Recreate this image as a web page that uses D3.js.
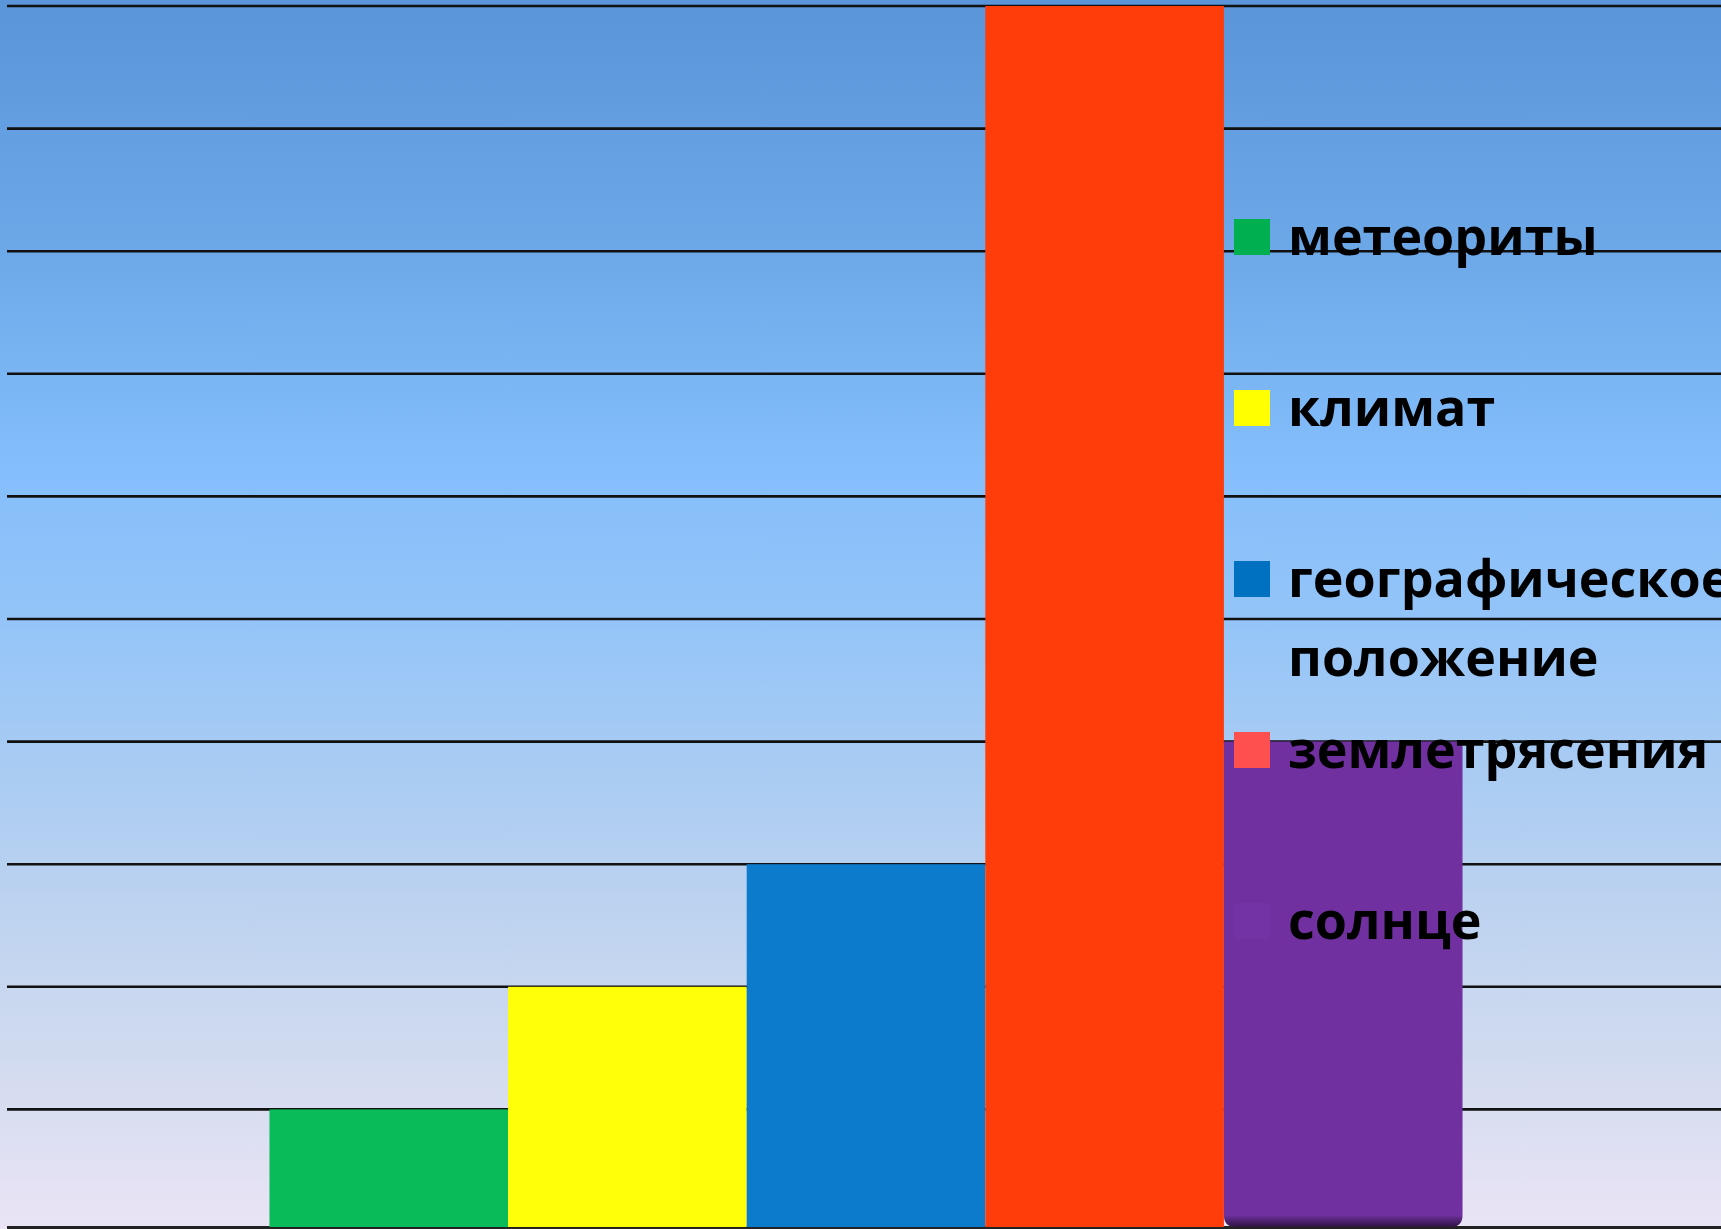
<!DOCTYPE html>
<html><head><meta charset="utf-8">
<script src="https://cdn.jsdelivr.net/npm/d3@7"></script>
<style>html,body{margin:0;padding:0;overflow:hidden;background:#fff}</style>
</head><body>
<script>
const categories = ["метеориты", "климат", "географическое положение", "землетрясения", "солнце"];
const values = [1, 2, 3, 10, 4];
const barColors = ["#0ABB59", "#FFFF0A", "#0D7BCB", "#FF3D0A", "#70309F"];
const legendColors = ["#00B050", "#FFFF00", "#0070C0", "#FF5050", "#7433A5"];
const tickValues = [0, 1, 2, 3, 4, 5, 6, 7, 8, 9, 10];

const W = 1721, H = 1229;
const svg = d3.select("body").append("svg").attr("width", W).attr("height", H);
const defs = svg.append("defs");
const bg = defs.append("linearGradient").attr("id", "bg").attr("x1", 0).attr("y1", 0).attr("x2", 0).attr("y2", 1);
[[0, "#5A94D9"], [0.2, "#6CA8E8"], [0.38, "#84BEFB"], [0.5, "#93C4F8"], [0.7, "#B6D0F0"], [0.85, "#CFDAEF"], [1, "#EAE4F5"]]
  .forEach(([o, c]) => bg.append("stop").attr("offset", o).attr("stop-color", c));
const shade = defs.append("linearGradient").attr("id", "shade").attr("x1", 0).attr("y1", 0).attr("x2", 0).attr("y2", 1);
shade.append("stop").attr("offset", 0).attr("stop-color", "#000").attr("stop-opacity", 0);
shade.append("stop").attr("offset", 1).attr("stop-color", "#000").attr("stop-opacity", 0.6);

svg.append("rect").attr("width", W).attr("height", H).attr("fill", "url(#bg)");

const plotLeft = 7, plotRight = 1725;
const y = d3.scaleLinear().domain([0, 10]).range([1232, 6]);
const x0 = d3.scaleBand().domain(["g"]).range([plotLeft, plotRight]).paddingOuter(0.22).paddingInner(0);
const x1 = d3.scaleBand().domain(categories).range([x0("g"), x0("g") + x0.bandwidth()]).padding(0);

// gridlines
svg.append("g").selectAll("line").data(tickValues).join("line")
  .attr("x1", plotLeft).attr("x2", W)
  .attr("y1", d => y(d)).attr("y2", d => y(d))
  .attr("stroke", "#111").attr("stroke-width", 2.6);
// bottom frame line
svg.append("line").attr("x1", plotLeft).attr("x2", W).attr("y1", H - 1.5).attr("y2", H - 1.5)
  .attr("stroke", "#222").attr("stroke-width", 3);

const plotBottom = H - 2;
const bars = svg.append("g");
categories.forEach((c, i) => {
  const xl = x1(c), bw = x1.bandwidth();
  const top = y(values[i]);
  if (i === categories.length - 1) {
    const r = 12, bot = plotBottom;
    const p = `M${xl},${top} H${xl + bw} V${bot - r} Q${xl + bw},${bot} ${xl + bw - r},${bot} H${xl + r} Q${xl},${bot} ${xl},${bot - r} Z`;
    bars.append("path").attr("d", p).attr("fill", barColors[i]);
    bars.append("path").attr("d", `M${xl},${bot - 12} H${xl + bw} V${bot - r} Q${xl + bw},${bot} ${xl + bw - r},${bot} H${xl + r} Q${xl},${bot} ${xl},${bot - r} Z`)
      .attr("fill", "url(#shade)");
  } else {
    bars.append("rect").attr("x", xl).attr("y", top).attr("width", bw).attr("height", Math.max(0, plotBottom - top))
      .attr("fill", barColors[i]);
  }
});

// legend
const lg = svg.append("g").attr("font-family", "'Open Sans', 'Noto Sans', sans-serif").attr("font-weight", 700).attr("font-size", 52);
const legX = 1234, legY0 = 219, legStep = 171, sq = 36;
categories.forEach((c, i) => {
  const yy = legY0 + i * legStep;
  lg.append("rect").attr("x", legX).attr("y", yy).attr("width", sq).attr("height", sq).attr("fill", legendColors[i]);
  const t = lg.append("text").attr("x", legX + 54).attr("y", yy + sq).attr("fill", "#000");
  const words = c.split(" ");
  words.forEach((w, k) => {
    t.append("tspan").attr("x", legX + 54).attr("dy", k === 0 ? 0 : 79).text(w);
  });
});
</script>
</body></html>
